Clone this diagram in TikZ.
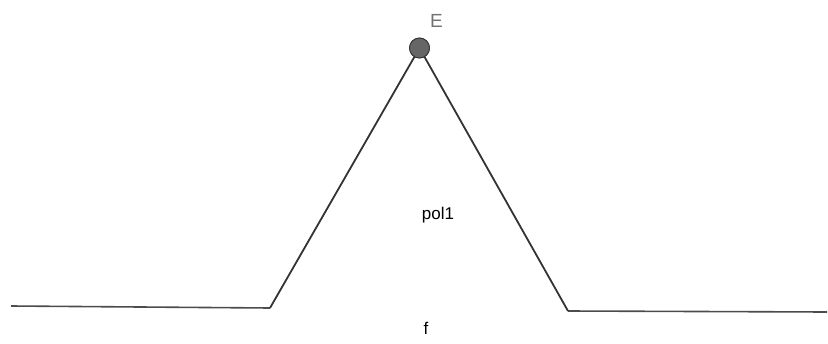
\documentclass[tikz,border=0pt]{standalone}
\usepackage{fontspec}
\setmainfont{Liberation Sans}
\begin{document}
\begin{tikzpicture}[x=1pt,y=-1pt,
  edge/.style={line width=1.8pt,draw=black!80},
  flat/.style={line width=1.6pt,draw=black!70},
  pt/.style={circle,fill=black!60,draw=black!80,line width=0.8pt,minimum size=20pt,inner sep=0pt},
  lbl/.style={font=\fontsize{17}{17}\selectfont,inner sep=0pt}]
\useasboundingbox (0,0) rectangle (828,343);
\coordinate (L0) at (11,306);
\coordinate (A) at (270,308);
\coordinate (B) at (568,311);
\coordinate (R0) at (827,312);
\node[pt] (E) at (419.5,48) {};
\draw[flat] (L0) -- (A);
\draw[flat] (B) -- (R0);
\draw[edge,line join=miter] (A) -- (E.center) -- (B);
\node[pt] at (E) {};
\node[lbl,font=\fontsize{19}{19}\selectfont,text=black!55,anchor=south west] (Elbl) at (430,28) {E};
\node[lbl] (pol) at (438,215) {pol1};
\node[lbl] (f) at (426,328) {f};
\end{tikzpicture}
\end{document}
